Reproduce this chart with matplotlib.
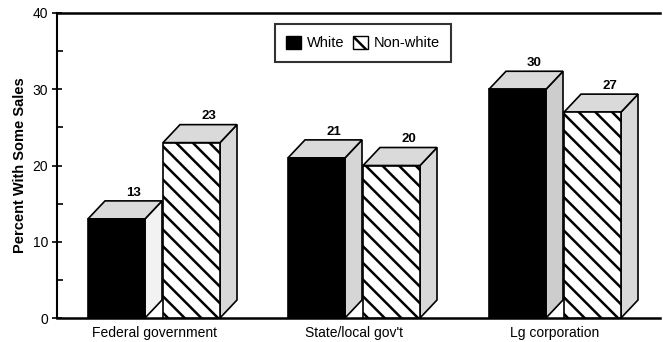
import numpy as np
import matplotlib
matplotlib.use("Agg")
import matplotlib.pyplot as plt
from matplotlib.patches import Polygon, Rectangle, Patch

plt.rcParams['font.family'] = ['Liberation Sans', 'DejaVu Sans']
plt.rcParams['hatch.linewidth'] = 1.8

# Share of firms with some sales, by buyer type and owner race
categories = ["Federal government", "State/local gov't", "Lg corporation"]
white = [13, 21, 30]
nonwhite = [23, 20, 27]
series_names = ["White", "Non-white"]

# layout in axis pixel units (x) and percent (y)
centers = np.array([97, 297, 498])
bar_w = 57
dx = 17
dy = 2.36

fig = plt.figure(figsize=(6.63, 3.42), dpi=100)
ax = fig.add_axes([57 / 663, 24 / 342, 603 / 663, 305 / 342])


def draw_box(x, h, front_kw, side_color):
    ax.add_patch(Polygon([(x + bar_w, 0), (x + bar_w + dx, dy), (x + bar_w + dx, h + dy), (x + bar_w, h)],
                         closed=True, facecolor=side_color, edgecolor='black', lw=1.2, zorder=2))
    ax.add_patch(Polygon([(x, h), (x + dx, h + dy), (x + bar_w + dx, h + dy), (x + bar_w, h)],
                         closed=True, facecolor='#dadada', edgecolor='black', lw=1.2, zorder=2))
    ax.add_patch(Rectangle((x, 0), bar_w, h, edgecolor='black', lw=1.2, zorder=3, **front_kw))
    ax.text(x + dx + bar_w / 2, h + dy + 0.3, f"{h:g}", ha='center', va='bottom',
            fontsize=9.5, fontweight='bold', zorder=4)


side_colors_w = ['#f2f2f2', '#d6d6d6', '#cdcdcd']
for i, c in enumerate(centers):
    draw_box(c - 66, white[i], dict(facecolor='black'), side_colors_w[i])
    draw_box(c + 9, nonwhite[i], dict(facecolor='white', hatch='\\\\'), '#d9d9d9')

ax.set_xlim(0, 603)
ax.set_ylim(0, 40)
ax.set_xticks(centers)
ax.set_xticklabels(categories, fontsize=10)
ax.set_yticks([0, 10, 20, 30, 40])
ax.set_yticks([5, 15, 25, 35], minor=True)
ax.tick_params(axis='y', which='major', direction='inout', length=7, width=1.2, labelsize=10, pad=3)
ax.tick_params(axis='y', which='minor', direction='in', length=4, width=1.2)
ax.tick_params(axis='x', length=0, pad=6)
ax.set_ylabel("Percent With Some Sales", fontsize=10.5, fontweight='bold', labelpad=4)

ax.spines['right'].set_visible(False)
ax.spines['top'].set_linewidth(1.8)
ax.spines['bottom'].set_linewidth(1.8)
ax.spines['left'].set_linewidth(1.5)

handles = [Patch(facecolor='black', edgecolor='black'),
           Patch(facecolor='white', edgecolor='black', hatch='\\\\')]
leg = fig.legend(handles, series_names, loc='center', bbox_to_anchor=(363 / 663, 1 - 43 / 342),
                 ncol=2, fontsize=10.5, frameon=True, fancybox=False, handlelength=1.0,
                 handleheight=1.0, handletextpad=0.4, columnspacing=0.6, borderpad=0.8,
                 borderaxespad=0)
leg.get_frame().set_edgecolor('black')
leg.get_frame().set_linewidth(1.5)

fig.savefig("out.png", dpi=100)
